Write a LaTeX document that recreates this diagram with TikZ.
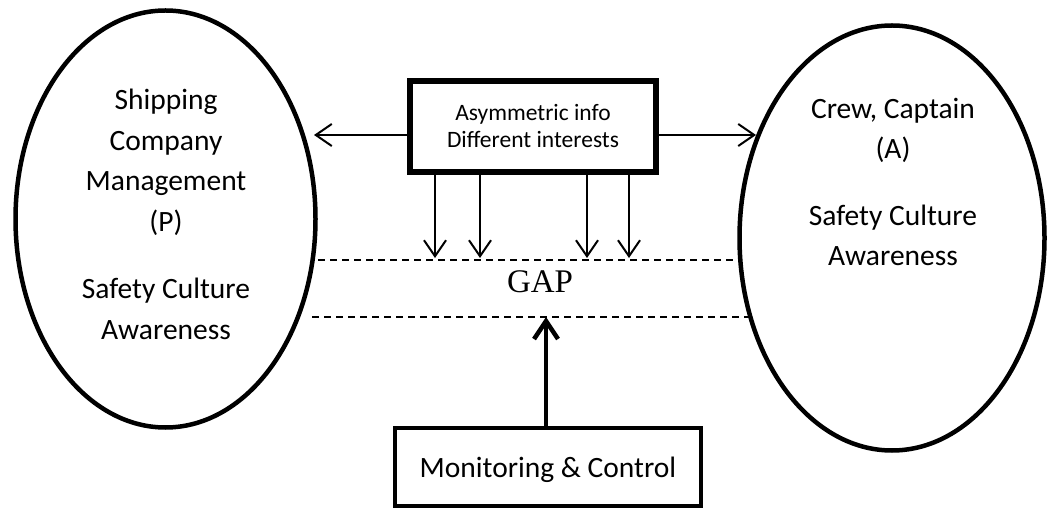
\documentclass[tikz,border=0pt]{standalone}
\usepackage{fontspec}
\setmainfont{Carlito}
\newfontfamily\gapfont{Liberation Serif}
\usetikzlibrary{shapes.geometric,arrows.meta}
\tikzset{
  party/.style={draw, ellipse, line width=4.5pt, inner sep=0pt},
  partytext/.style={align=center, anchor=north, inner sep=0pt,
    font=\fontsize{29.5}{40.5}\selectfont},
  infobox/.style={draw, line width=6pt, inner sep=0pt, align=center,
    font=\fontsize{23.5}{27}\selectfont},
  ctrlbox/.style={draw, line width=4.5pt, inner sep=0pt, text depth=0pt,
    font=\fontsize{29.5}{35}\selectfont},
  thinarrow/.style={line width=2pt, -{Straight Barb[length=16pt,width=22pt]}},
  thickarrow/.style={line width=4.5pt, -{Straight Barb[length=18pt,width=24pt]}},
  gapline/.style={line width=1.5pt, dash pattern=on 7pt off 5pt},
}
\begin{document}
\begin{tikzpicture}[x=1pt, y=-1pt]
  \useasboundingbox (0,0) rectangle (1048,510);

  % principal and agent
  \node[party, minimum width=300pt, minimum height=417pt] (P) at (165.5,219) {};
  \node[partytext] (Ptext) at (166,89)
    {Shipping\\Company\\Management\\(P)\\[27pt]Safety Culture\\Awareness};
  \node[party, minimum width=305pt, minimum height=425pt] (A) at (892,238) {};
  \node[partytext] (Atext) at (893,98)
    {Crew, Captain\\(A)\\[26pt]Safety Culture\\Awareness};

  % asymmetric information box
  \node[infobox, minimum width=246pt, minimum height=91pt] (info) at (533,126.5)
    {Asymmetric info\\Different interests};

  % monitoring box
  \node[ctrlbox, minimum width=306pt, minimum height=78pt] (ctrl) at (548,467)
    {Monitoring \& Control};

  % the gap between the two parties
  \coordinate (gapTL) at (318,260);
  \coordinate (gapTR) at (738,260);
  \coordinate (gapBL) at (312,317);
  \coordinate (gapBR) at (750,317);
  \draw[gapline] (gapTL) -- (gapTR);
  \draw[gapline] (gapBL) -- (gapBR);
  \node[anchor=base, inner sep=0pt, font=\gapfont\fontsize{33}{33}\selectfont]
    (gap) at (540,292) {GAP};

  % arrows out of the information box
  \coordinate (toP) at (314,135);
  \coordinate (toA) at (756,135);
  \draw[thinarrow] (info.west |- toP) -- (toP);
  \draw[thinarrow] (info.east |- toA) -- (toA);

  \coordinate (d1) at (435,258);
  \coordinate (d2) at (480,258);
  \coordinate (d3) at (587,258);
  \coordinate (d4) at (629,258);
  \foreach \d in {d1,d2,d3,d4}
    \draw[thinarrow] (info.south -| \d) -- (\d);

  % monitoring narrows the gap
  \coordinate (up) at (546,317);
  \draw[thickarrow] (ctrl.north -| up) -- (up);
\end{tikzpicture}
\end{document}
